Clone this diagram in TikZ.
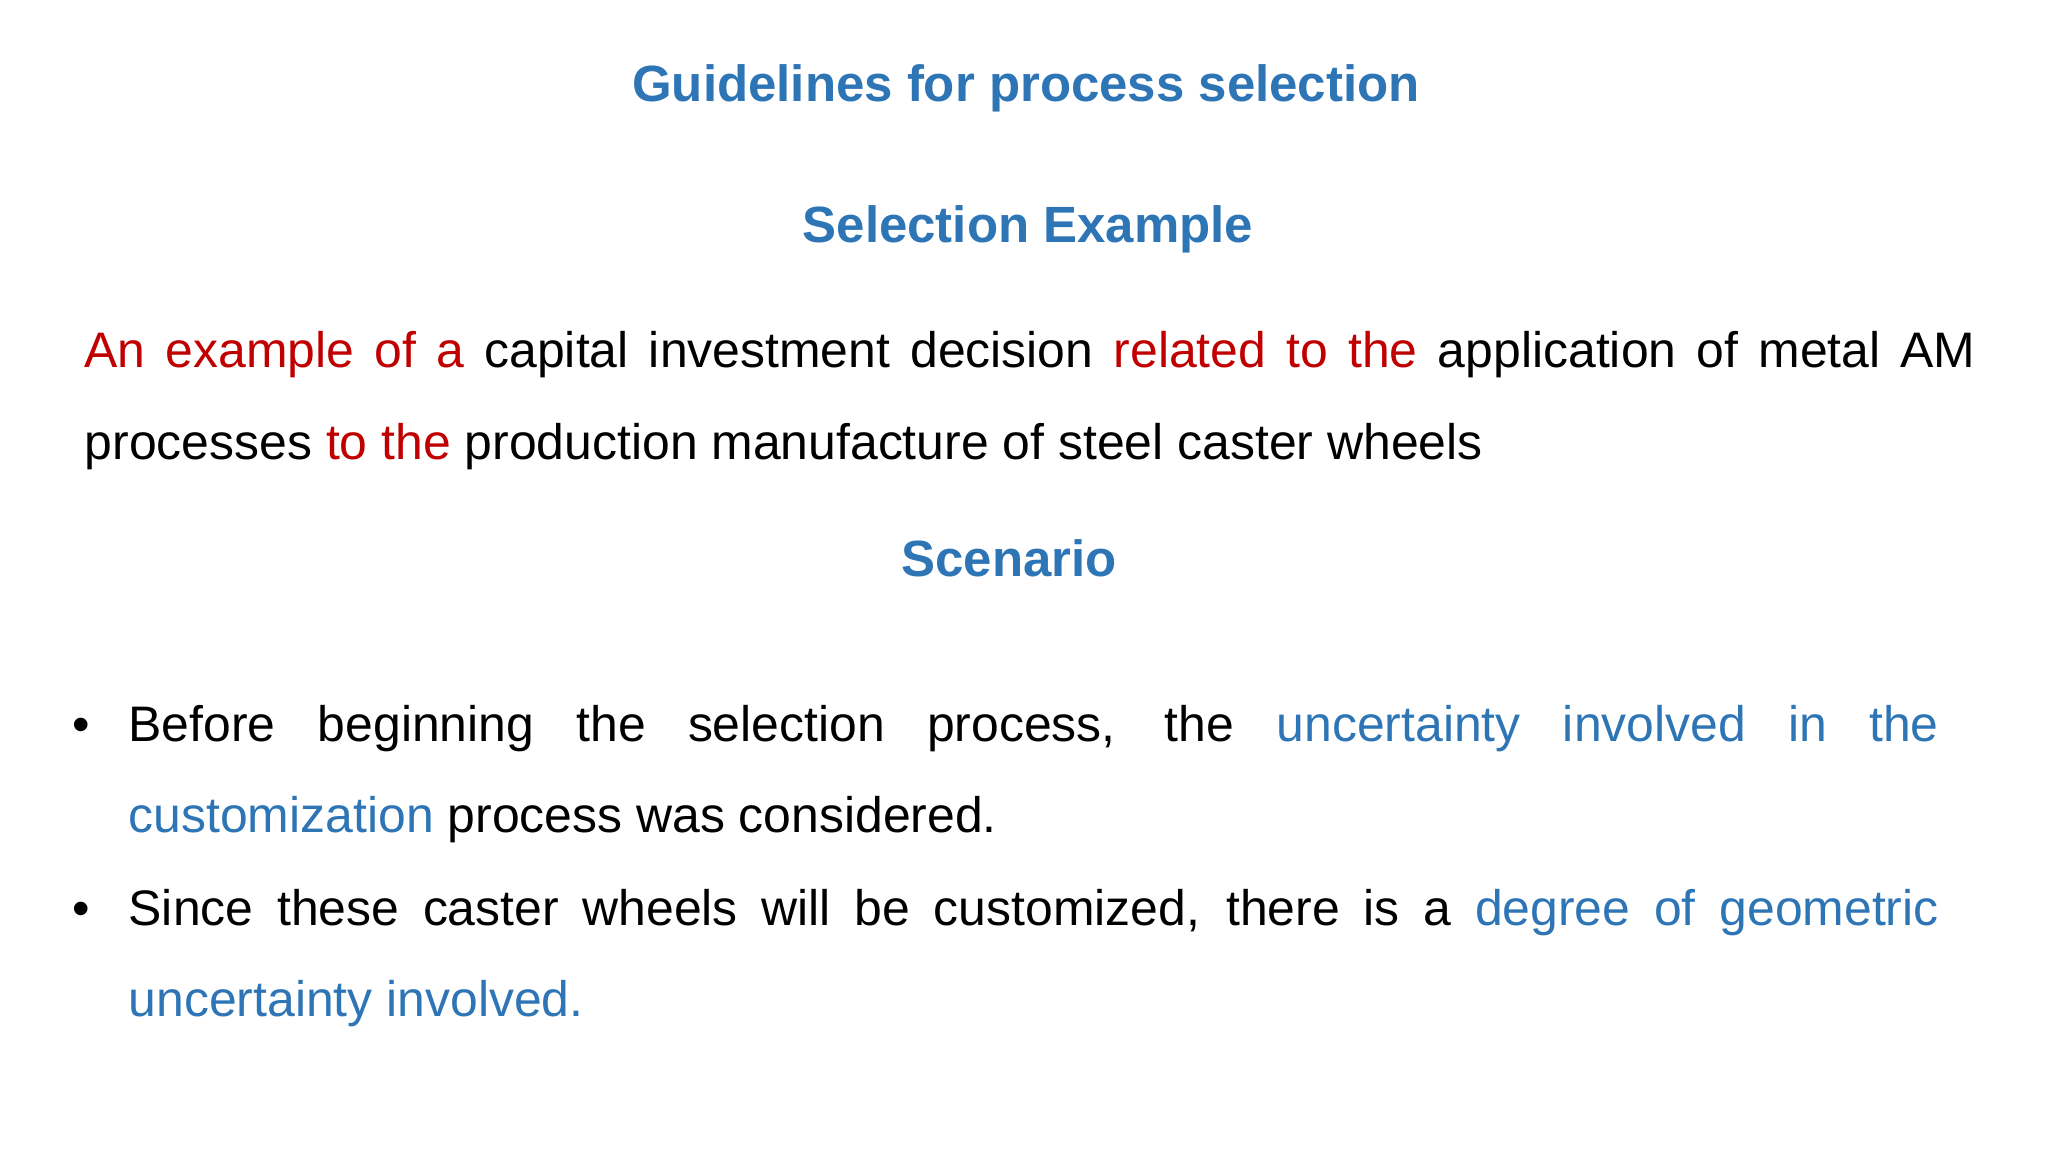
\documentclass[tikz,border=0pt]{standalone}
\usepackage{fontspec}
\setmainfont{Liberation Sans}
\definecolor{tblue}{RGB}{46,117,182}
\definecolor{tred}{RGB}{192,0,0}
\begin{document}
\begin{tikzpicture}[x=1cm,y=1cm,
  ttl/.style={anchor=base,font=\fontsize{14.5}{17}\selectfont\bfseries,text=tblue,inner sep=0pt},
  body/.style={anchor=base west,font=\fontsize{14.2}{17}\selectfont,inner sep=0pt}]
\useasboundingbox[fill=white] (0,0) rectangle (20.48,-11.52);
\node[ttl] (t1) at (10.26,-1.02) {Guidelines for process selection};
\node[ttl] (t2) at (10.28,-2.43) {Selection Example};
\node[body] (l1) at (0.84,-3.68) {\makebox[18.91cm][s]{\color{tred}An example of a \color{black}capital investment decision \color{tred}related to the \color{black}application of metal AM}};
\node[body] (l2) at (0.84,-4.60) {processes \textcolor{tred}{to the} production manufacture of steel caster wheels};
\node[ttl] (t3) at (10.09,-5.77) {Scenario};
\node[body] (b1) at (0.72,-7.41) {•};
\node[body] (l3) at (1.28,-7.41) {\makebox[18.1cm][s]{Before beginning the selection process, the \color{tblue}uncertainty involved in the}};
\node[body] (l4) at (1.28,-8.32) {\textcolor{tblue}{customization} process was considered.};
\node[body] (b2) at (0.72,-9.25) {•};
\node[body] (l5) at (1.28,-9.25) {\makebox[18.1cm][s]{Since these caster wheels will be customized, there is a \color{tblue}degree of geometric}};
\node[body] (l6) at (1.28,-10.16) {\textcolor{tblue}{uncertainty involved.}};
\end{tikzpicture}
\end{document}
